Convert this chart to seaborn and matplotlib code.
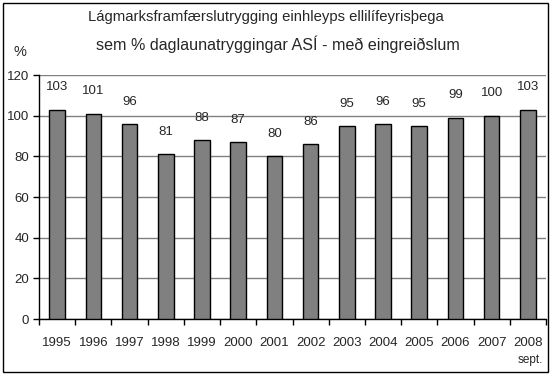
import numpy as np
import seaborn as sns
import matplotlib.pyplot as plt
from matplotlib.patches import Rectangle

# data
years = ["1995", "1996", "1997", "1998", "1999", "2000", "2001",
         "2002", "2003", "2004", "2005", "2006", "2007", "2008"]
values = [103, 101, 96, 81, 88, 87, 80, 86, 95, 96, 95, 99, 100, 103]
title1 = "Lágmarksframfærslutrygging einhleyps ellilífeyrisþega"
title2 = "sem % daglaunatryggingar ASÍ - með eingreiðslum"

sns.set_style("white")
plt.rcParams['font.family'] = ['Liberation Sans', 'DejaVu Sans']

fig = plt.figure(figsize=(5.52, 3.77), dpi=100)
ax = fig.add_axes([39 / 552, 1 - 319 / 377, (546 - 39) / 552, (319 - 75) / 377])

sns.barplot(x=years, y=values, color="#808080", saturation=1,
            edgecolor="black", linewidth=1, width=0.43, ax=ax, zorder=3)

ax.set_ylim(0, 120)
ax.set_xlim(-0.5, len(years) - 0.5)
ax.set_yticks(np.arange(0, 121, 20))
ax.yaxis.grid(True, color="#808080", linewidth=1, zorder=0)
ax.set_axisbelow(True)
for s in ["top", "right"]:
    ax.spines[s].set_visible(False)
for s in ["left", "bottom"]:
    ax.spines[s].set_color("black")
    ax.spines[s].set_linewidth(1)

ax.tick_params(axis="y", direction="out", length=4, width=1, color="black",
               labelsize=9.5, pad=3, left=True)
ax.tick_params(axis="x", which="major", length=0, labelsize=9.5, pad=13)
ax.set_xticks(np.arange(-0.5, len(years), 1), minor=True)
ax.tick_params(axis="x", which="minor", direction="out", length=4, width=1,
               color="black", bottom=True)
ax.set_xlabel("")
ax.set_ylabel("")

for i, v in enumerate(values):
    ax.annotate(str(v), (i, v), xytext=(0, 16), textcoords="offset points",
                ha="center", va="center", fontsize=9.5)

fig.text(266 / 552, 1 - 17 / 377, title1, ha="center", va="center", fontsize=10.7)
fig.text(278 / 552, 1 - 44 / 377, title2, ha="center", va="center", fontsize=11.6)
fig.text(20 / 552, 1 - 52 / 377, "%", ha="center", va="center", fontsize=10.5)
fig.text(543 / 552, 1 - 360 / 377, "sept.", ha="right", va="center", fontsize=8.5)

fig.patches.append(Rectangle((3 / 552, 1 - 372 / 377), 545 / 552, 369 / 377,
                             transform=fig.transFigure, fill=False,
                             edgecolor="black", linewidth=1))

fig.savefig("out.png", dpi=100)
